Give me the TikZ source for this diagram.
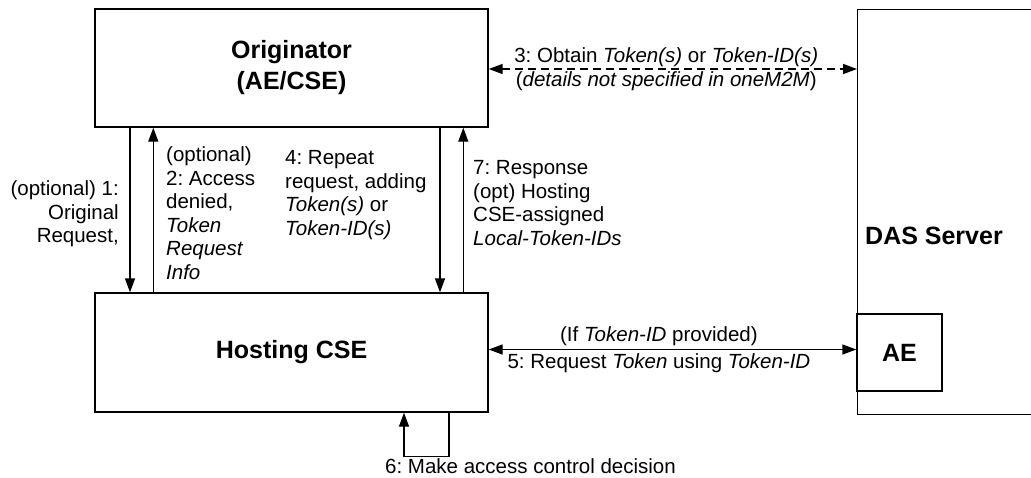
\documentclass[tikz,border=0pt]{standalone}
\usepackage{fontspec}
\setmainfont{Liberation Sans}
\usetikzlibrary{arrows.meta}
\frenchspacing
\begin{document}
\begin{tikzpicture}[x=1pt,y=-1pt,
  box/.style={draw, line width=1.4pt, inner sep=0pt, font=\fontsize{25}{31}\selectfont\bfseries, align=center},
  arr/.style={line width=1.4pt, -{Triangle[length=14pt,width=10pt]}},
  darr/.style={line width=1.4pt, {Triangle[length=14pt,width=10pt]}-{Triangle[length=14pt,width=10pt]}},
  lbl/.style={inner sep=0pt, font=\fontsize{20.5}{23.5}\selectfont}]
\frenchspacing
\useasboundingbox (0,0) rectangle (1031,477);
\clip (0,0) rectangle (1031,477);
\node[box, minimum width=393pt, minimum height=118pt] (orig) at (291.5,68) {Originator\\(AE/CSE)};
\node[box, minimum width=393pt, minimum height=119pt] (host) at (291.5,352.5) {Hosting CSE};
\node[box, minimum width=200pt, minimum height=405pt, anchor=north west] (das) at (857,9) {};
\node[inner sep=0pt, font=\fontsize{25}{31}\selectfont\bfseries] (dastext) at (934,236) {DAS Server};
\node[box, minimum width=85pt, minimum height=77pt] (ae) at (899.5,352.5) {AE};
% vertical arrows
\draw[arr] ([xshift=-161.5pt]orig.south) -- ([xshift=-161.5pt]host.north);
\draw[arr] ([xshift=-138.2pt]host.north) -- ([xshift=-138.2pt]orig.south);
\draw[arr] ([xshift=148.5pt]orig.south) -- ([xshift=148.5pt]host.north);
\draw[arr] ([xshift=171.8pt]host.north) -- ([xshift=171.8pt]orig.south);
% labels
\node[lbl, align=right, anchor=east] (l1) at (119,214) {(optional) 1:\\Original\\Request,};
\node[lbl, align=left, anchor=west] (l2) at (166,213) {(optional)\\2: Access\\denied,\\\textit{Token}\\\textit{Request}\\\textit{Info}};
\node[lbl, align=left, anchor=west] (l4) at (285,195) {4: Repeat\\request, adding\\\textit{Token(s)} or\\\textit{Token-ID(s)}};
\node[lbl, align=left, anchor=west] (l7) at (473,203) {7: Response\\(opt) Hosting\\CSE-assigned\\\textit{Local-Token-IDs}};
% 3
\draw[darr, dash pattern=on 8pt off 5pt] ([yshift=-1pt]orig.east) -- ([yshift=-1pt]orig.east -| das.west)
  node[lbl, pos=0.482, above, inner sep=1.5pt] (l3a) {3: Obtain \textit{Token(s)} or \textit{Token-ID(s)}}
  node[lbl, pos=0.482, below, inner sep=2pt] (l3b) {(\textit{details not specified in oneM2M})};
% 5
\draw[darr] ([yshift=3pt]host.east) -- ([yshift=3pt]ae.west)
  node[lbl, pos=0.463, above, inner sep=3pt] (l5a) {(If \textit{Token-ID} provided)}
  node[lbl, pos=0.463, below, inner sep=3pt] (l5b) {5: Request \textit{Token} using \textit{Token-ID}};
% 6
\draw[arr] ([xshift=157.5pt]host.south) -- ++(0,44) -| ([xshift=112.5pt]host.south);
\node[lbl, anchor=base west, text depth=0pt] (l6) at (385,473) {6: Make access control decision};
\end{tikzpicture}
\end{document}
